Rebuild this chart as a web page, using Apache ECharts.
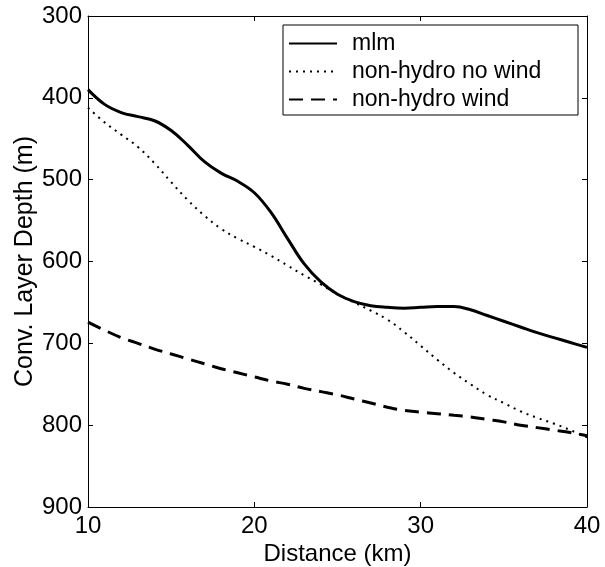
<!DOCTYPE html>
<html>
<head>
<meta charset="utf-8">
<script src="https://cdn.jsdelivr.net/npm/echarts@6/dist/echarts.min.js"></script>
<style>
  html, body { margin: 0; padding: 0; background: #fff; }
  #chart { width: 605px; height: 567px; }
</style>
</head>
<body>
<div id="chart"></div>
<script>
const distanceKm = [10,11,12,13,14,15,16,17,18,19,20,21,22,23,24,25,26,27,28,29,30,31,32,33,34,35,36,37,38,39,40];
const mlmDepth = [390,408,418,423,428,440,458,478,492,502,516,540,572,603,625,640,649,654,656,657,656,655,655,659,666,673,680,687,693,699,705];
const noWindDepth = [412,430,445,460,480,503,525,544,560,572,582,593,605,617,628,640,650,660,671,686,703,720,736,750,763,773,783,791,798,806,815];
const windDepth = [674,684,693,700,707,713,719,725,731,736,741,746,750,755,759,763,768,773,778,782,784,786,788,790,793,796,800,803,806,809,813];
const seriesNames = ['mlm', 'non-hydro no wind', 'non-hydro wind'];
const xTicks = [10, 40, 10];   // min, max, step
const yTicks = [300, 900, 100];

const FONT = 'Liberation Sans, Arial, Helvetica, sans-serif';
const pair = (ys) => distanceKm.map((x, i) => [x, ys[i]]);

const chart = echarts.init(document.getElementById('chart'), null, { renderer: 'canvas' });

const baseAxis = {
  type: 'value',
  axisLine: { show: true, lineStyle: { color: '#000', width: 1 } },
  axisTick: { show: true, inside: true, length: 5, lineStyle: { color: '#000', width: 1 } },
  splitLine: { show: false },
  minorTick: { show: false }
};

chart.setOption({
  animation: false,
  backgroundColor: '#fff',
  grid: { left: 88, right: 18, top: 16, bottom: 60, containLabel: false, outerBoundsMode: 'none' },
  xAxis: [
    Object.assign({}, baseAxis, {
      min: xTicks[0], max: xTicks[1], interval: xTicks[2], position: 'bottom',
      axisLabel: { color: '#000', fontSize: 24, fontFamily: FONT, margin: 7 },
      name: 'Distance (km)', nameLocation: 'middle', nameGap: 35, nameMoveOverlap: false,
      nameTextStyle: { color: '#000', fontSize: 24, fontFamily: FONT }
    }),
    Object.assign({}, baseAxis, {
      min: xTicks[0], max: xTicks[1], interval: xTicks[2], position: 'top',
      axisLabel: { show: false }
    })
  ],
  yAxis: [
    Object.assign({}, baseAxis, {
      min: yTicks[0], max: yTicks[1], interval: yTicks[2], inverse: true, position: 'left',
      axisLabel: { color: '#000', fontSize: 24, fontFamily: FONT, margin: 6 },
      name: 'Conv. Layer Depth (m)', nameLocation: 'middle', nameGap: 50, nameMoveOverlap: false,
      nameTextStyle: { color: '#000', fontSize: 25, fontFamily: FONT }
    }),
    Object.assign({}, baseAxis, {
      min: yTicks[0], max: yTicks[1], interval: yTicks[2], inverse: true, position: 'right',
      axisLabel: { show: false }
    })
  ],
  legend: {
    orient: 'vertical',
    left: 288, top: 32,
    itemWidth: 48, itemHeight: 14, itemGap: 5,
    padding: 0,
    itemStyle: { opacity: 0 },
    textStyle: { color: '#000', fontSize: 23, fontFamily: FONT, padding: [0, 0, 0, 10] },
    data: seriesNames
  },
  graphic: [{
    type: 'rect',
    shape: { x: 283, y: 25, width: 295, height: 90 },
    style: { fill: 'none', stroke: '#000', lineWidth: 1 },
    z: 100
  }],
  series: [
    {
      name: seriesNames[0], type: 'line', data: pair(mlmDepth), smooth: 0.4,
      symbol: 'none', lineStyle: { color: '#000', width: 3, type: 'solid' },
      itemStyle: { color: '#000' }
    },
    {
      name: seriesNames[1], type: 'line', data: pair(noWindDepth), smooth: 0.4,
      symbol: 'none', lineStyle: { color: '#000', width: 2, type: [2, 5] },
      itemStyle: { color: '#000' }
    },
    {
      name: seriesNames[2], type: 'line', data: pair(windDepth), smooth: 0.4,
      symbol: 'none', lineStyle: { color: '#000', width: 3, type: [14, 8] },
      itemStyle: { color: '#000' }
    }
  ]
});
</script>
</body>
</html>
